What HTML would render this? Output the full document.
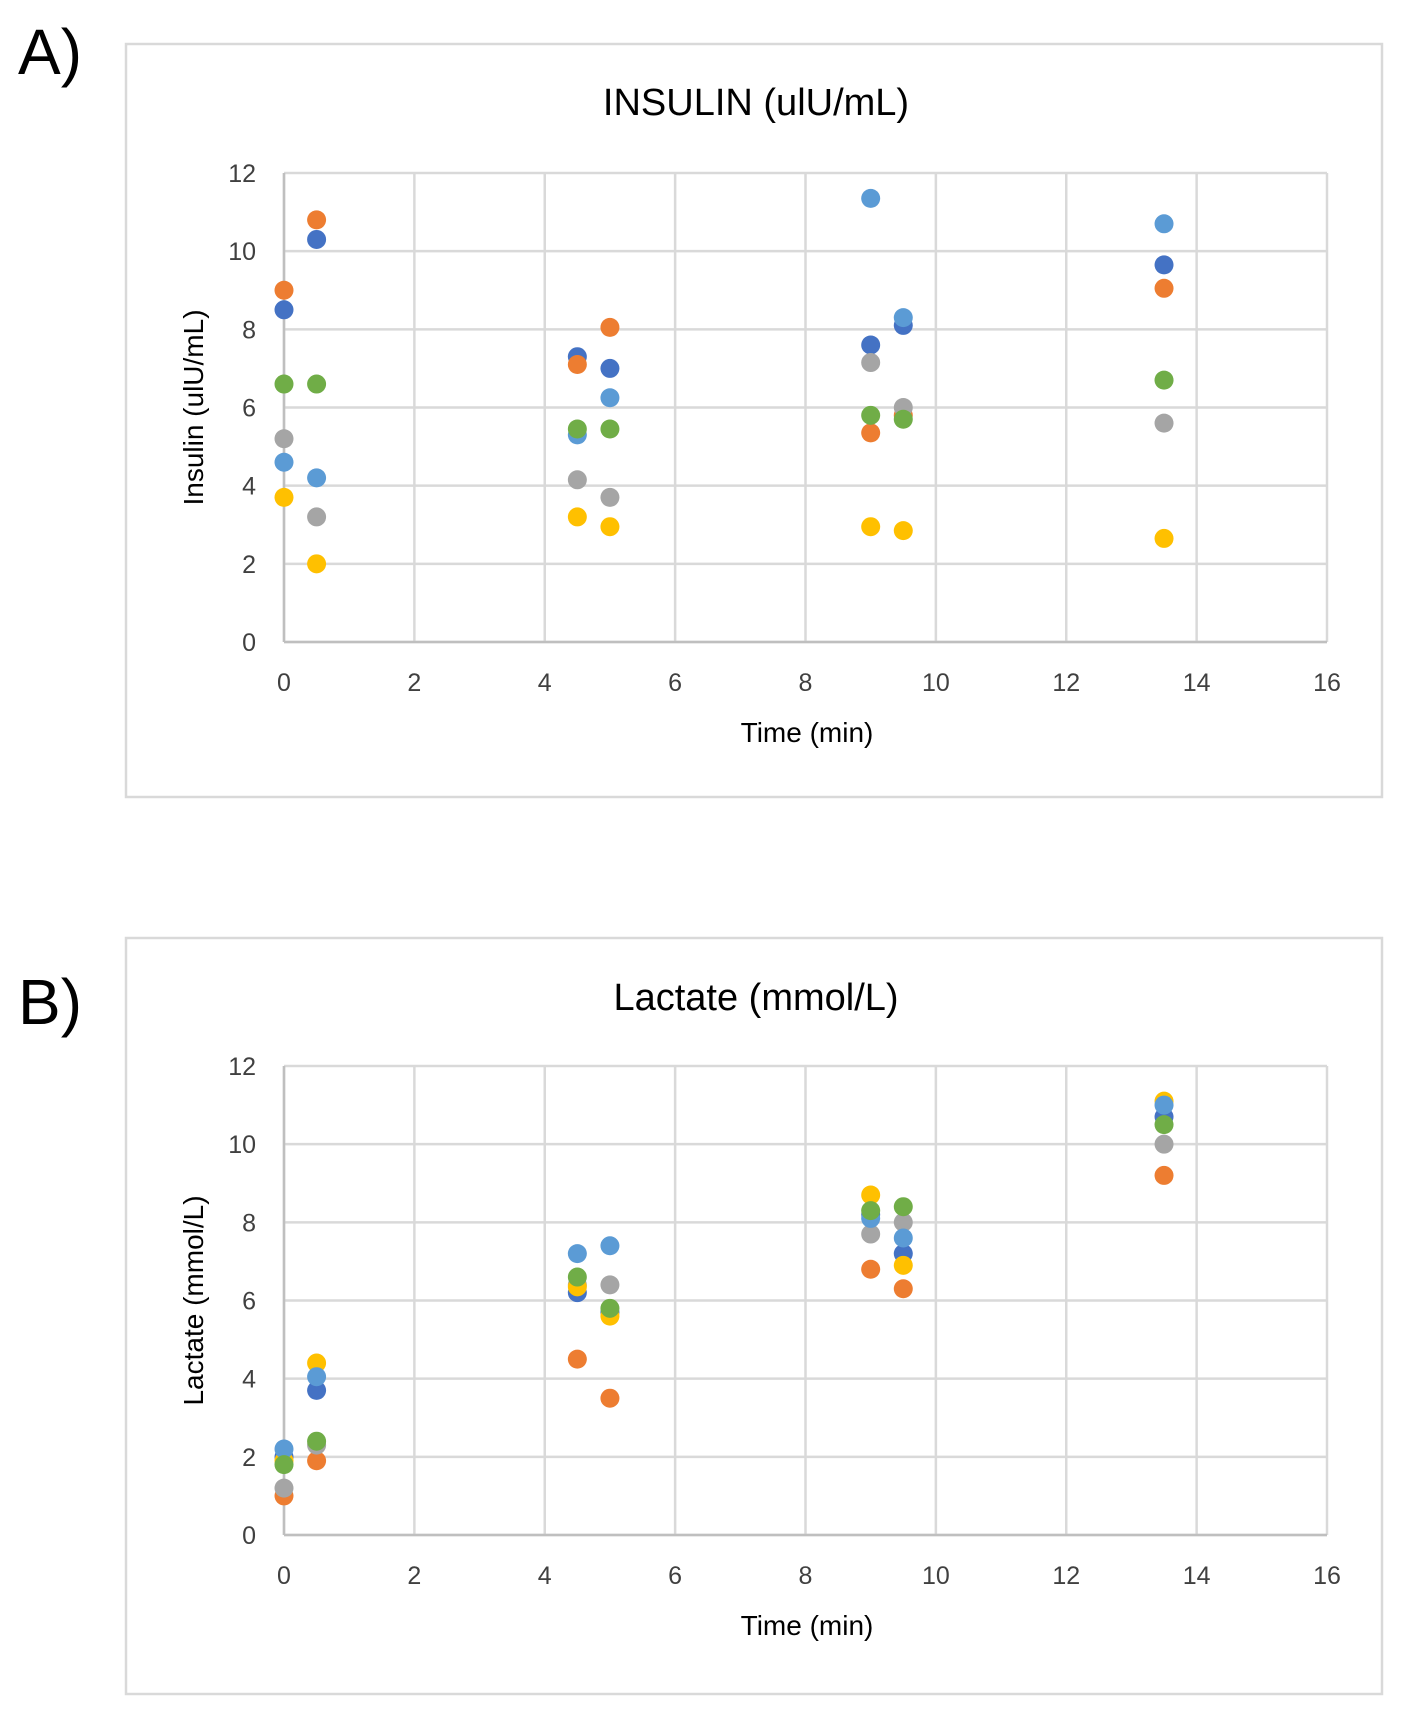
<!DOCTYPE html>
<html><head><meta charset="utf-8"><style>
html,body{margin:0;padding:0;background:#fff;}
svg{display:block;font-family:"Liberation Sans",sans-serif;}
</style></head><body>
<svg id="fig" width="1402" height="1712" viewBox="0 0 1402 1712"></svg>
<script>
const xTicks = [0,2,4,6,8,10,12,14,16];
const yTicks = [0,2,4,6,8,10,12];
const seriesNames = ['s1','s2','s3','s4','s5','s6'];
const seriesColors = ['#4472C4','#ED7D31','#A5A5A5','#FFC000','#5B9BD5','#70AD47'];
const times = [0,0.5,4.5,5,9,9.5,13.5];
const insS1 = [8.5,10.3,7.3,7.0,7.6,8.1,9.65];
const insS2 = [9.0,10.8,7.1,8.05,5.35,5.8,9.05];
const insS3 = [5.2,3.2,4.15,3.7,7.15,6.0,5.6];
const insS4 = [3.7,2.0,3.2,2.95,2.95,2.85,2.65];
const insS5 = [4.6,4.2,5.3,6.25,11.35,8.3,10.7];
const insS6 = [6.6,6.6,5.45,5.45,5.8,5.7,6.7];
const lacS1 = [2.0,3.7,6.2,5.7,8.2,7.2,10.7];
const lacS2 = [1.0,1.9,4.5,3.5,6.8,6.3,9.2];
const lacS3 = [1.2,2.3,6.4,6.4,7.7,8.0,10.0];
const lacS4 = [1.9,4.4,6.35,5.6,8.7,6.9,11.1];
const lacS5 = [2.2,4.05,7.2,7.4,8.1,7.6,11.0];
const lacS6 = [1.8,2.4,6.6,5.8,8.3,8.4,10.5];

const NS='http://www.w3.org/2000/svg';
const svg=document.getElementById('fig');
function mk(tag,attrs,parent){const e=document.createElementNS(NS,tag);for(const k in attrs)e.setAttribute(k,attrs[k]);(parent||svg).appendChild(e);return e;}

function chart(cfg){
  const g=mk('g',{});
  
  
  const fr=mk('rect',{x:126,y:cfg.fy0,width:1256,height:cfg.fy1-cfg.fy0,fill:'#fff',stroke:'#d9d9d9','stroke-width':2.5},g);
  
  
  const X0=284,X1=1327,Y0=cfg.py0,Y1=cfg.py12;
  const sx=v=>X0+(v-0)/16*(X1-X0);
  const sy=v=>Y0-(v-0)/12*(Y0-Y1);
  yTicks.forEach(t=>{
    const l=mk('line',{x1:X0,x2:X1,y1:sy(t),y2:sy(t),stroke:'#d9d9d9','stroke-width':2.5},g);
    
    
    const tx=mk('text',{x:256,y:sy(t)+9,'text-anchor':'end','font-size':25,fill:'#404040'},g);
    tx.textContent=t;
    
    
  });
  xTicks.forEach(t=>{
    const l=mk('line',{x1:sx(t),x2:sx(t),y1:Y1,y2:Y0,stroke:'#d9d9d9','stroke-width':2.5},g);
    
    
    const tx=mk('text',{x:sx(t),y:Y0+49,'text-anchor':'middle','font-size':25,fill:'#404040'},g);
    tx.textContent=t;
    
    
  });
  const ax=mk('line',{x1:X0,x2:X1,y1:Y0,y2:Y0,stroke:'#bfbfbf','stroke-width':2.5},g);
  
  
  const ay=mk('line',{x1:X0,x2:X0,y1:Y1,y2:Y0,stroke:'#bfbfbf','stroke-width':2.5},g);
  
  
  const tt=mk('text',{x:756,y:cfg.ty,'text-anchor':'middle','font-size':38,fill:'#000'},g);
  tt.textContent=cfg.title;
  
  
  const xt=mk('text',{x:807,y:Y0+100,'text-anchor':'middle','font-size':28,fill:'#000'},g);
  xt.textContent='Time (min)';
  
  
  const yc=(Y0+Y1)/2;
  const yt=mk('text',{x:0,y:0,'text-anchor':'middle','font-size':28,fill:'#000',transform:`translate(203,${yc}) rotate(-90)`},g);
  yt.textContent=cfg.ytitle;
  
  
  const pl=mk('text',{x:18,y:cfg.ly,'font-size':64,fill:'#000'},g);
  pl.textContent=cfg.panel;
  
  
  cfg.series.forEach((vals,si)=>{
    vals.forEach((v,i)=>{
      const c=mk('circle',{cx:sx(times[i]),cy:sy(v),r:9.5,fill:seriesColors[si]},g);
      
      
    });
  });
}
chart({name:'insulin-chart',fy0:44,fy1:797,py0:642,py12:173,ty:115,title:'INSULIN (ulU/mL)',ytitle:'Insulin (ulU/mL)',panel:'A)',ly:74,
  series:[insS1,insS2,insS3,insS4,insS5,insS6]});
chart({name:'lactate-chart',fy0:938,fy1:1694,py0:1535,py12:1066,ty:1010,title:'Lactate (mmol/L)',ytitle:'Lactate (mmol/L)',panel:'B)',ly:1024,
  series:[lacS1,lacS2,lacS3,lacS4,lacS5,lacS6]});
</script>
</body></html>
